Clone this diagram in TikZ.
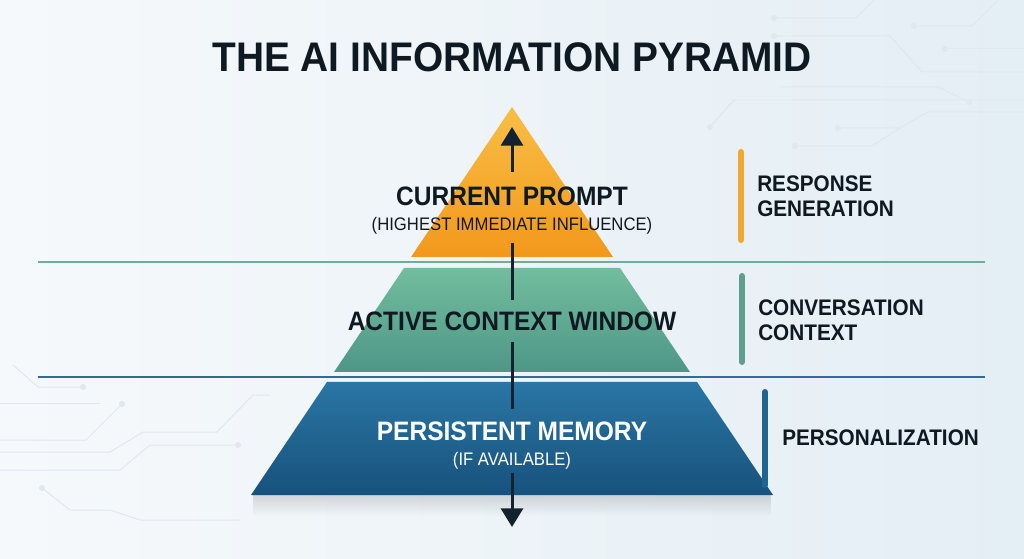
\documentclass[tikz,border=0pt]{standalone}
\usepackage{fontspec}
\setmainfont{Liberation Sans}
\newfontfamily\condfont{Liberation Sans}[FakeStretch=0.92]
\newfontfamily\titlefont{Liberation Sans}[FakeStretch=0.94]
\usetikzlibrary{arrows.meta}
\usetikzlibrary{positioning}
\usetikzlibrary{fadings}
\definecolor{inkdark}{HTML}{0F1922}
\definecolor{bgleft}{HTML}{F6F9FB}
\definecolor{bgright}{HTML}{E4EEF5}
\definecolor{orangetop}{HTML}{F9BE45}
\definecolor{orangebot}{HTML}{F2981C}
\definecolor{greentop}{HTML}{72BD9E}
\definecolor{greenbot}{HTML}{4E9787}
\definecolor{bluetop}{HTML}{2A76A5}
\definecolor{bluebot}{HTML}{17527C}
\definecolor{greenline}{HTML}{70AE9C}
\definecolor{blueline}{HTML}{2D6F94}
\definecolor{orangebar}{HTML}{F0A92E}
\definecolor{greenbar}{HTML}{5E9F8C}
\definecolor{bluebar}{HTML}{1F6592}
\definecolor{arrowdark}{HTML}{13222E}
\definecolor{circuitgray}{HTML}{DFE8EE}
\tikzfading[name=shadowfade, top color=transparent!0, bottom color=transparent!100]

\begin{document}
\begin{tikzpicture}[
    x=0.75pt, y=-0.75pt,
    layer_title/.style={font=\condfont\bfseries\fontsize{20}{24}\selectfont, text=inkdark, inner sep=0pt},
    layer_note/.style={font=\condfont\fontsize{13.6}{15}\selectfont, text=inkdark, inner sep=0pt, anchor=base},
    side_text/.style={font=\condfont\bfseries\fontsize{16.9}{18.75}\selectfont, text=inkdark, align=left, anchor=west, inner sep=0pt},
    side_bar/.style={line width=4.5pt, line cap=round},
    sep_line/.style={line width=1.5pt},
    axis_line/.style={line width=2.25pt, draw=arrowdark},
    circuit/.style={draw=circuitgray, line width=0.75pt},
    tip/.style={-{Triangle[length=14pt, width=16.5pt]}}
]
    % Background
    \shade[left color=bgleft, right color=bgright] (0,0) rectangle (1024,559);
    \useasboundingbox (0,0) rectangle (1024,559);

    % Circuit traces
    \draw[circuit] (774,18) -- (856,18) -- (874,0);
    \draw[circuit] (774,36) -- (890,36) -- (922,72) -- (1024,72);
    \draw[circuit] (914,26) -- (972,26) -- (998,0);
    \draw[circuit] (945,49) -- (1024,49);
    \draw[circuit] (780,87) -- (938,87) -- (969,102);
    \draw[circuit] (710,127) -- (734,100) -- (1024,100);
    \draw[circuit] (838,128) -- (900,128) -- (928,112) -- (1024,112);
    \draw[circuit] (795,146) -- (872,146) -- (900,128);
    \draw[circuit] (13,365) -- (38,387) -- (83,387);
    \draw[circuit] (0,403) -- (100,403);
    \draw[circuit] (122,404) -- (86,440) -- (0,440);
    \draw[circuit] (0,452) -- (110,452) -- (143,432) -- (217,432) -- (253,395) -- (270,395);
    \draw[circuit] (238,445) -- (150,445) -- (120,470) -- (0,470);
    \draw[circuit] (42,488) -- (70,510) -- (110,510) -- (140,520) -- (240,520);
    \foreach \p in {(774,18),(774,36),(914,26),(945,49),(969,102),(710,127),(838,128),(795,146),(83,387),(122,404),(238,445),(42,488)}
        \fill[circuitgray] \p circle (3);

    % Title
    \node (title) [font=\titlefont\bfseries\fontsize{31}{36}\selectfont, text=inkdark] at (512,57) {THE AI INFORMATION PYRAMID};

    % Separators
    \draw[sep_line, greenline] (38,262) -- (985,262);
    \draw[sep_line, blueline] (38,377) -- (985,377);

    % Pyramid layers
    \fill[black, opacity=0.13, path fading=shadowfade] (253,495) rectangle (771,516);
    \shade[top color=orangetop, bottom color=orangebot] (512,107) -- (613,257) -- (411,257) -- cycle;
    \shade[top color=greentop, bottom color=greenbot] (404,268) -- (620,268) -- (690,372) -- (334,372) -- cycle;
    \shade[top color=bluetop, bottom color=bluebot] (327,382) -- (697,382) -- (773,495) -- (251,495) -- cycle;

    % Layer labels
    \node (prompt) [layer_title, outer ysep=11.25pt] at (512,196) {CURRENT PROMPT};
    \node (promptsub) [layer_note, outer ysep=6pt] at (512,231) {(HIGHEST IMMEDIATE INFLUENCE)};
    \node (active) [layer_title, outer ysep=9pt] at (512,321) {ACTIVE CONTEXT WINDOW};
    \node (memory) [layer_title, text=white, outer ysep=9.75pt] at (512,431) {PERSISTENT MEMORY};
    \node (memsub) [layer_note, text=white, outer ysep=3pt] at (512,465) {(IF AVAILABLE)};

    % Influence axis
    \coordinate (toptip) at (512,127);
    \coordinate (bottip) at (512,527);
    \draw[axis_line, tip] (prompt.north) -- (toptip);
    \draw[axis_line] (promptsub.south) -- (active.north);
    \draw[axis_line] (active.south) -- (memory.north);
    \draw[axis_line, tip] (memsub.south) -- (bottip);

    % Side bars
    \draw[side_bar, orangebar] (741,152) -- (741,240);
    \draw[side_bar, greenbar] (742,276) -- (742,362);
    \draw[side_bar, bluebar] (765,392) -- (765,485);

    % Side labels
    \node (resp) [side_text] at (757,196) {RESPONSE\\GENERATION};
    \node (conv) [side_text] at (758,320) {CONVERSATION\\CONTEXT};
    \node (pers) [side_text] at (782,438) {PERSONALIZATION};

\end{tikzpicture}
\end{document}
